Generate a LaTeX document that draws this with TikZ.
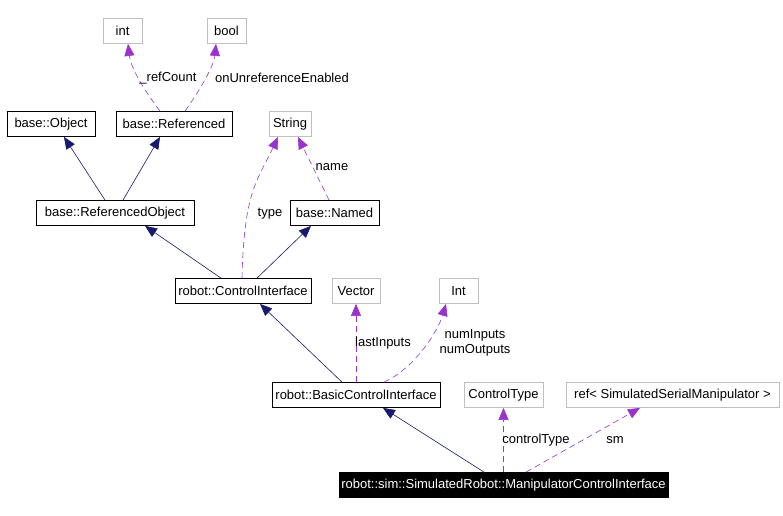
\documentclass[tikz,border=0pt]{standalone}
\usepackage{fontspec}
\setmainfont{Liberation Sans}
\usetikzlibrary{arrows.meta}
\definecolor{InheritBlue}{HTML}{191970}
\definecolor{UsagePurple}{HTML}{9A32CD}
\definecolor{BoxGray}{HTML}{BFBFBF}

\begin{document}
\begin{tikzpicture}[x=1pt, y=-1pt,
  inharr/.style={-{Triangle[length=12pt, width=10pt]}, color=InheritBlue, line width=0.6pt},
  usearr/.style={-{Triangle[length=12pt, width=10pt]}, color=UsagePurple, line width=0.6pt,
                 dash pattern=on 6pt off 4pt},
  cls/.style={rectangle, draw=black, fill=white, line width=0.8pt,
              font=\fontsize{13}{15}\selectfont, inner xsep=2pt, inner ysep=2pt,
              minimum height=25pt},
  ext/.style={cls, draw=BoxGray},
  focus/.style={cls, fill=black, text=white},
  lbl/.style={font=\fontsize{13}{15}\selectfont, inner sep=1pt, align=center}
]
\useasboundingbox[fill=white] (0,0) rectangle (783,515);

% classes
\node[ext, minimum width=39pt]   (intT)       at (122.5, 31)  {int};
\node[ext, minimum width=39pt]   (boolT)      at (226.5, 31)  {bool};
\node[cls, minimum width=88pt]   (object)     at (51, 124)    {base::Object};
\node[cls, minimum width=116pt]  (referenced) at (174, 124)   {base::Referenced};
\node[ext, minimum width=42pt]   (stringT)    at (290, 124)   {String};
\node[cls, minimum width=158pt]  (refobj)     at (115, 213)   {base::ReferencedObject};
\node[cls, minimum width=89pt]   (named)      at (334.5, 213) {base::Named};
\node[cls, minimum width=136pt]  (ctrl)       at (243, 291)   {robot::ControlInterface};
\node[ext, minimum width=48pt]   (vector)     at (356, 291)   {Vector};
\node[ext, minimum width=39pt]   (intB)       at (458.5, 291) {Int};
\node[cls, minimum width=168pt]  (basic)      at (356, 395)   {robot::BasicControlInterface};
\node[ext, minimum width=79pt]   (ctype)      at (503.5, 395) {ControlType};
\node[ext, minimum width=213pt]  (refsm)      at (672.5, 395) {ref< SimulatedSerialManipulator >};
\node[focus, minimum width=329pt] (manip)     at (503.5, 485) {robot::sim::SimulatedRobot::ManipulatorControlInterface};

% inheritance
\draw[inharr] ([xshift=-10pt]refobj.north) -- ([xshift=13pt]object.south);
\draw[inharr] ([xshift=8pt]refobj.north) -- ([xshift=-14pt]referenced.south);
\draw[inharr] ([xshift=-22pt]ctrl.north) -- ([xshift=30pt]refobj.south);
\draw[inharr] ([xshift=14pt]ctrl.north) -- ([xshift=-23.5pt]named.south);
\draw[inharr] ([xshift=-14pt]basic.north) -- ([xshift=17pt]ctrl.south);
\draw[inharr] ([xshift=-19.5pt]manip.north) -- ([xshift=27pt]basic.south);

% members
\draw[usearr] ([xshift=-14pt]referenced.north) .. controls +(-15,-20) and +(3,25) .. ([xshift=5.5pt]intT.south);
\draw[usearr] ([xshift=11pt]referenced.north) .. controls +(13,-18) and +(-2,22) .. ([xshift=-10.5pt]boolT.south);
\draw[usearr] ([xshift=-1pt]ctrl.north) .. controls +(2,-88) and +(-20,43) .. ([xshift=-12pt]stringT.south);
\draw[usearr] ([xshift=-5.5pt]named.north) -- ([xshift=8pt]stringT.south);
\draw[usearr] (basic.north) -- (vector.south);
\draw[usearr] ([xshift=28pt]basic.north) .. controls +(31,-14) and +(-8,27) .. ([xshift=-12.5pt]intB.south);
\draw[usearr] (manip.north) -- (ctype.south);
\draw[usearr] ([xshift=22.5pt]manip.north) -- ([xshift=-32.5pt]refsm.south);

% member names
\node[lbl] (lRefCount) at (168, 78)  {\_refCount};
\node[lbl] (lOnUnref)  at (282, 78)  {onUnreferenceEnabled};
\node[lbl] (lType)     at (270, 214) {type};
\node[lbl] (lName)     at (332, 167) {name};
\node[lbl] (lLast)     at (383, 343) {lastInputs};
\node[lbl] (lNum)      at (475, 343) {numInputs\\numOutputs};
\node[lbl] (lCtype)    at (536, 440) {controlType};
\node[lbl] (lSm)       at (615, 440) {sm};
\end{tikzpicture}
\end{document}
